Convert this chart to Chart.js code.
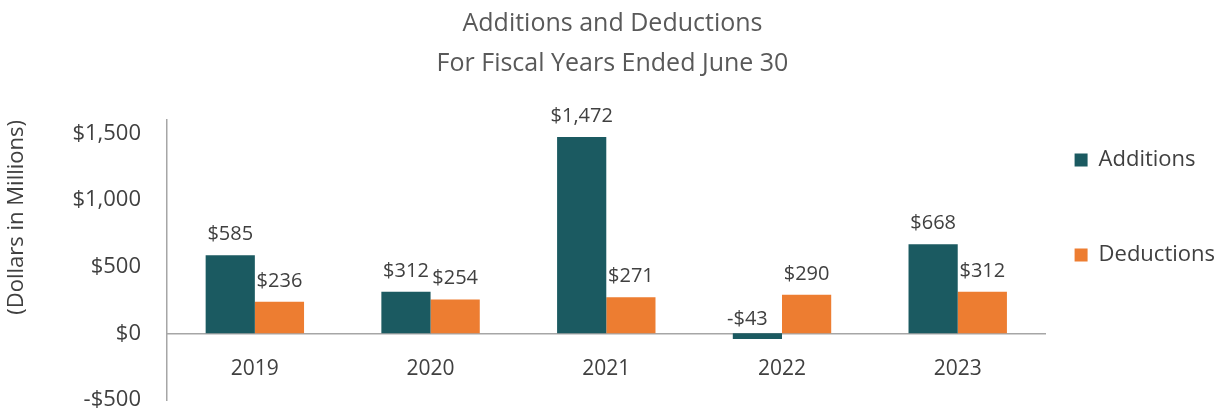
<!DOCTYPE html>
<html>
<head>
<meta charset="utf-8">
<script src="https://cdn.jsdelivr.net/npm/chart.js@4.4.1/dist/chart.umd.min.js"></script>
<style>
html,body{margin:0;padding:0;background:#fff;}
#wrap{width:1225px;height:414px;position:relative;}
</style>
</head>
<body>
<div id="wrap"><canvas id="c" width="1225" height="414"></canvas></div>
<script>
const categories = ['2019', '2020', '2021', '2022', '2023'];
const additions = [585, 312, 1472, -43, 668];
const deductions = [236, 254, 271, 290, 312];
const yTicks = [-500, 0, 500, 1000, 1500];
const titleLines = ['Additions and Deductions', 'For Fiscal Years Ended June 30'];
const yTitle = '(Dollars in Millions)';

const FONT = "'Open Sans', sans-serif";
const TXT = '#404040';

function money(v) {
  const s = '$' + Math.abs(v).toLocaleString('en-US');
  return v < 0 ? '-' + s : s;
}

const valueLabels = {
  id: 'valueLabels',
  afterDatasetsDraw(chart) {
    const ctx = chart.ctx;
    const zeroY = chart.scales.y.getPixelForValue(0);
    ctx.save();
    ctx.font = '20px ' + FONT;
    ctx.fillStyle = TXT;
    ctx.textAlign = 'center';
    ctx.textBaseline = 'alphabetic';
    chart.data.datasets.forEach((ds, di) => {
      const meta = chart.getDatasetMeta(di);
      meta.data.forEach((bar, i) => {
        const v = ds.data[i];
        const y = v < 0 ? zeroY - 8 : bar.y - 15;
        const x = v < 0 ? bar.x - 10 : bar.x;
        ctx.fillText(money(v), x, y);
      });
    });
    ctx.restore();
  }
};

new Chart(document.getElementById('c'), {
  type: 'bar',
  data: {
    labels: categories,
    datasets: [
      { label: 'Additions', data: additions, backgroundColor: '#1B5A61' },
      { label: 'Deductions', data: deductions, backgroundColor: '#ED7D31' }
    ]
  },
  options: {
    responsive: false,
    animation: false,
    layout: { padding: { left: 0, right: 0, top: 0, bottom: 0 } },
    datasets: { bar: { categoryPercentage: 0.56, barPercentage: 1.0 } },
    plugins: {
      title: {
        display: true,
        text: titleLines,
        color: '#595959',
        font: { family: FONT, size: 25, weight: 'normal', lineHeight: 1.6 },
        padding: { top: 4, bottom: 36 }
      },
      legend: {
        position: 'right',
        align: 'start',
        fullSize: false,
        labels: {
          boxWidth: 13,
          boxHeight: 13,
          padding: 29,
          color: TXT,
          font: { family: FONT, size: 22, lineHeight: 1.5 },
          generateLabels(chart) {
            const items = Chart.defaults.plugins.legend.labels.generateLabels(chart);
            items.forEach(it => { it.text = [it.text, '']; it.lineWidth = 0; });
            return items;
          }
        }
      },
      tooltip: { enabled: false }
    },
    scales: {
      x: {
        position: { y: 0 },
        afterFit(scale) { scale.height = 0; },
        grid: { display: false, drawTicks: false },
        border: { display: true, color: '#A6A6A6', width: 1.5 },
        ticks: { color: TXT, font: { family: FONT, size: 21 }, padding: 23 }
      },
      y: {
        min: -500,
        max: 1600,
        afterBuildTicks(scale) { scale.ticks = yTicks.map(v => ({ value: v })); },
        afterFit(scale) { scale.paddingBottom = 14; scale.paddingTop = 14; },
        grid: { display: false, drawTicks: false },
        border: { display: true, color: '#A6A6A6', width: 1.5 },
        ticks: { color: TXT, font: { family: FONT, size: 22 }, padding: 26, callback: v => money(v) },
        title: {
          display: true,
          text: yTitle,
          align: 'end',
          color: TXT,
          font: { family: FONT, size: 22 },
          padding: { top: 4, bottom: 16 }
        }
      }
    }
  },
  plugins: [valueLabels]
});
</script>
</body>
</html>
